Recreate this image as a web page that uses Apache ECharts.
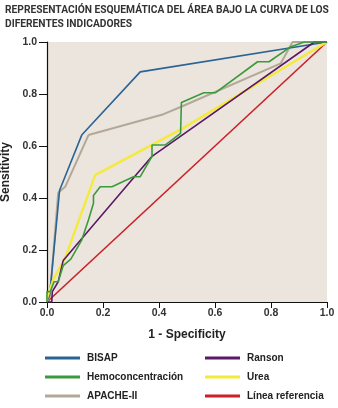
<!DOCTYPE html>
<html>
<head>
<meta charset="utf-8">
<script src="https://cdn.jsdelivr.net/npm/echarts@6/dist/echarts.min.js"></script>
<style>
  html, body { margin: 0; padding: 0; background: #fff; }
  #chart1 { width: 338px; height: 408px; }
</style>
</head>
<body>
<div id="chart1"></div>
<script>
// curves, [1 - specificity, sensitivity]
const bisap = [[0, 0], [0.01, 0.03], [0.045, 0.43], [0.124, 0.642], [0.333, 0.885], [1, 1]];
const hemo = [[0, 0], [0, 0.04], [0.012, 0.04], [0.025, 0.078], [0.04, 0.078], [0.058, 0.14],
  [0.085, 0.165], [0.124, 0.238], [0.148, 0.315], [0.166, 0.38], [0.166, 0.41], [0.19, 0.443],
  [0.232, 0.443], [0.309, 0.482], [0.333, 0.482], [0.375, 0.56], [0.375, 0.604], [0.423, 0.604],
  [0.477, 0.649], [0.48, 0.767], [0.513, 0.783], [0.56, 0.805], [0.602, 0.805], [0.752, 0.924],
  [0.793, 0.924], [0.871, 0.982], [0.919, 1], [1, 1]];
const apache = [[0, 0], [0.01, 0.02], [0.04, 0.42], [0.065, 0.443], [0.148, 0.642], [0.41, 0.72],
  [0.477, 0.75], [0.835, 0.918], [0.877, 1], [1, 1]];
const ranson = [[0, 0], [0.017, 0], [0.019, 0.04], [0.04, 0.078], [0.058, 0.16], [0.142, 0.266],
  [0.333, 0.508], [0.375, 0.56], [0.955, 1], [1, 1]];
const urea = [[0, 0], [0, 0.015], [0.022, 0.085], [0.065, 0.17], [0.172, 0.488], [0.48, 0.665], [1, 1]];
const referencia = [[0, 0], [1, 1]];

const names = ['BISAP', 'Hemoconcentración', 'APACHE-II', 'Ranson', 'Urea', 'Línea referencia'];
const colors = ['#2a6496', '#3c9a3c', '#b3a898', '#5a1a68', '#f4ea3c', '#cc1f27'];
const titleLines = ['REPRESENTACIÓN ESQUEMÁTICA DEL ÁREA BAJO LA CURVA DE LOS', 'DIFERENTES INDICADORES'];

let chart1;

const mkLine = (name, data, color, width) => ({
    name: name,
    type: 'line',
    data: data,
    symbol: 'none',
    lineStyle: { color: color, width: width },
    itemStyle: { color: color },
    animation: false
});

const titleText = (txt, y) => ({
    type: 'text',
    left: 5,
    top: y,
    scaleX: 0.89,
    style: {
        text: txt,
        fontFamily: 'Roboto, Arial',
        fontSize: 11.5,
        fontWeight: 'bold',
        fill: '#333'
    }
});

const getOptionChart1 = () => {
    const legendText = { fontFamily: 'Arial, Liberation Sans', fontSize: 10, fontWeight: 'bold', color: '#222', lineHeight: 12, padding: [0, 0, 0, 2] };
    return {
        graphic: [titleText(titleLines[0], 4), titleText(titleLines[1], 18)],
        grid: {
            left: 47, right: 11, top: 42, bottom: 106,
            outerBoundsMode: 'none',
            show: true,
            backgroundColor: '#ebe5dd',
            borderWidth: 0
        },
        legend: [
            {
                data: names.slice(0, 3),
                orient: 'vertical',
                left: 45, top: 352, padding: 0,
                icon: 'rect', itemWidth: 35, itemHeight: 3, itemGap: 7,
                textStyle: legendText
            },
            {
                data: names.slice(3),
                orient: 'vertical',
                left: 205, top: 352, padding: 0,
                icon: 'rect', itemWidth: 35, itemHeight: 3, itemGap: 7,
                textStyle: legendText
            }
        ],
        xAxis: {
            type: 'value',
            min: 0, max: 1, interval: 0.2,
            name: '1 - Specificity',
            nameLocation: 'middle',
            nameGap: 27,
            nameTextStyle: { fontFamily: 'Arial, Liberation Sans', fontSize: 12, fontWeight: 'bold', color: '#222' },
            splitLine: { show: false },
            axisLine: { lineStyle: { color: '#111', width: 1.2 } },
            axisTick: { length: 6, lineStyle: { color: '#111' } },
            axisLabel: {
                formatter: v => v.toFixed(1),
                fontFamily: 'Arial, Liberation Sans', fontSize: 10.5, fontWeight: 'bold', color: '#333', margin: 6
            }
        },
        yAxis: {
            type: 'value',
            min: 0, max: 1, interval: 0.2,
            name: 'Sensitivity',
            nameLocation: 'middle',
            nameGap: 34,
            nameTextStyle: { fontFamily: 'Arial, Liberation Sans', fontSize: 12, fontWeight: 'bold', color: '#222' },
            splitLine: { show: false },
            axisLine: { show: true, lineStyle: { color: '#111', width: 1.2 } },
            axisTick: { show: true, length: 8, lineStyle: { color: '#111' } },
            axisLabel: {
                formatter: v => v.toFixed(1),
                fontFamily: 'Arial, Liberation Sans', fontSize: 10.5, fontWeight: 'bold', color: '#333', margin: 10
            }
        },
        series: [
            mkLine(names[5], referencia, colors[5], 1.6),
            mkLine(names[2], apache, colors[2], 2),
            mkLine(names[0], bisap, colors[0], 1.6),
            mkLine(names[4], urea, colors[4], 2.4),
            mkLine(names[3], ranson, colors[3], 1.6),
            mkLine(names[1], hemo, colors[1], 1.6)
        ]
    };
};

const initCharts = () => {
    chart1 = echarts.init(document.getElementById('chart1'));
    chart1.setOption(getOptionChart1());
};
document.addEventListener('DOMContentLoaded', function () {
    initCharts();
});

window.addEventListener('resize', function () {
    chart1.resize();
});
</script>
</body>
</html>
